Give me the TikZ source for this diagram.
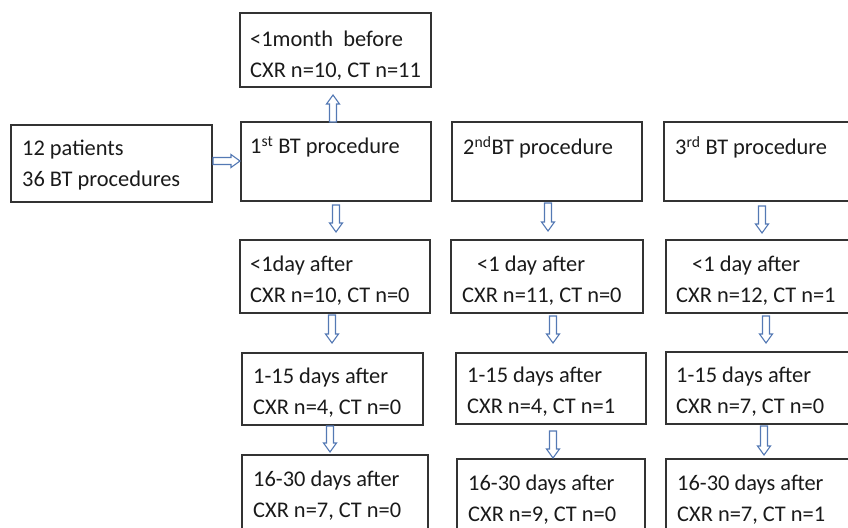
\documentclass[tikz,border=0pt]{standalone}
\usepackage{fontspec}
\setmainfont{Carlito}
\usetikzlibrary{calc}
\definecolor{arrowblue}{HTML}{5479B4}
\definecolor{boxline}{HTML}{333333}
\definecolor{txtcol}{HTML}{1A1A1A}
\tikzset{
  frame/.style={draw=boxline, line width=1.4pt, anchor=north west, inner sep=0pt, outer sep=0pt},
  txt/.style={anchor=north west, inner sep=0pt, align=left, text=txtcol,
    font=\fontsize{22.4}{31}\selectfont},
  barrow/.style={draw=arrowblue, line width=1.1pt, fill=white, line join=miter,
    to path={let \p1=(\tikztostart), \p2=(\tikztotarget), \p3=($(\p2)!9pt!(\p1)$) in
      ($(\p1)!3.5pt!90:(\p2)$) -- ($(\p3)!3.5pt!90:(\p2)$) -- ($(\p3)!6.5pt!90:(\p2)$)
      -- (\p2) -- ($(\p3)!6.5pt!-90:(\p2)$) -- ($(\p3)!3.5pt!-90:(\p2)$)
      -- ($(\p1)!3.5pt!-90:(\p2)$) -- cycle}}
}
\newcommand\bx[5]{\node[frame, minimum width=#4-#2, minimum height=#5-#3] (#1) at (#2,#3) {};}
\newcommand\tx[4]{\node[txt] (#1) at (#2,#3-17) {\rule{0pt}{17pt}#4};}
\begin{document}
\begin{tikzpicture}[x=1pt,y=-1pt]
\useasboundingbox (0,0) rectangle (848,527);
\clip (0,0) rectangle (848,527);
% boxes
\bx{top}{240}{13}{431}{87}
\bx{pat}{11}{125}{212}{202}
\bx{bt1}{241}{122}{431}{201}
\bx{bt2}{452}{122}{642}{201}
\bx{bt3}{664}{122}{870}{201}
\bx{d1a}{240}{240}{430}{313}
\bx{d1b}{451}{240}{643}{313}
\bx{d1c}{666}{240}{870}{313}
\bx{d15a}{242}{353}{423}{425}
\bx{d15b}{456}{353}{646}{424}
\bx{d15c}{666}{352}{870}{424}
\bx{d30a}{242}{455}{428}{560}
\bx{d30b}{457}{459}{645}{560}
\bx{d30c}{666}{459}{870}{560}
% texts
\tx{topt}{250}{46}{<1month\ \ before\\CXR n=10, CT n=11}
\tx{patt}{22}{155}{12 patients\\36 BT procedures}
\tx{bt1t}{250}{153}{1\textsuperscript{st} BT procedure}
\tx{bt2t}{463}{153}{2\textsuperscript{nd}BT procedure}
\tx{bt3t}{675}{153}{3\textsuperscript{rd} BT procedure}
\tx{d1at}{250}{271}{<1day after\\CXR n=10, CT n=0}
\tx{d1bt}{462}{271}{\hspace*{15pt}<1 day after\\CXR n=11, CT n=0}
\tx{d1ct}{676}{271}{\hspace*{16pt}<1 day after\\CXR n=12, CT n=1}
\tx{d15at}{253}{383}{1-15 days after\\CXR n=4, CT n=0}
\tx{d15bt}{467}{382}{1-15 days after\\CXR n=4, CT n=1}
\tx{d15ct}{676}{382}{1-15 days after\\CXR n=7, CT n=0}
\tx{d30at}{253}{486}{16-30 days after\\CXR n=7, CT n=0}
\tx{d30bt}{468}{490}{16-30 days after\\CXR n=9, CT n=0}
\tx{d30ct}{677}{490}{16-30 days after\\CXR n=7, CT n=1}
% arrows
\draw[barrow] ([xshift=1pt,yshift=2.5pt]pat.east) to ([xshift=-1pt,yshift=0.5pt]bt1.west);
\draw[barrow] ([xshift=-3pt]bt1.north) to ([xshift=-2.5pt,yshift=-8pt]top.south);
\draw[barrow] ([yshift=-4pt]bt1.south) to ([xshift=1pt,yshift=8pt]d1a.north);
\draw[barrow] ([xshift=-3pt,yshift=-2pt]d1a.south) to ([xshift=-0.5pt,yshift=10pt]d15a.north);
\draw[barrow] ([xshift=-2.5pt,yshift=-1pt]d15a.south) to ([xshift=-5pt,yshift=3pt]d30a.north);
\draw[barrow] ([xshift=1pt,yshift=-2pt]bt2.south) to ([xshift=1pt,yshift=9pt]d1b.north);
\draw[barrow] ([xshift=6pt,yshift=-3pt]d1b.south) to ([xshift=2pt,yshift=10pt]d15b.north);
\draw[barrow] ([xshift=2pt,yshift=-7pt]d15b.south) to ([xshift=2pt,yshift=1pt]d30b.north);
\draw[barrow] ([xshift=-5pt,yshift=-5pt]bt3.south) to ([xshift=-6pt,yshift=7pt]d1c.north);
\draw[barrow] ([xshift=-2pt,yshift=-3pt]d1c.south) to ([xshift=-2pt,yshift=9pt]d15c.north);
\draw[barrow] ([xshift=-4pt,yshift=-2pt]d15c.south) to ([xshift=-4pt,yshift=4pt]d30c.north);
\end{tikzpicture}
\end{document}
